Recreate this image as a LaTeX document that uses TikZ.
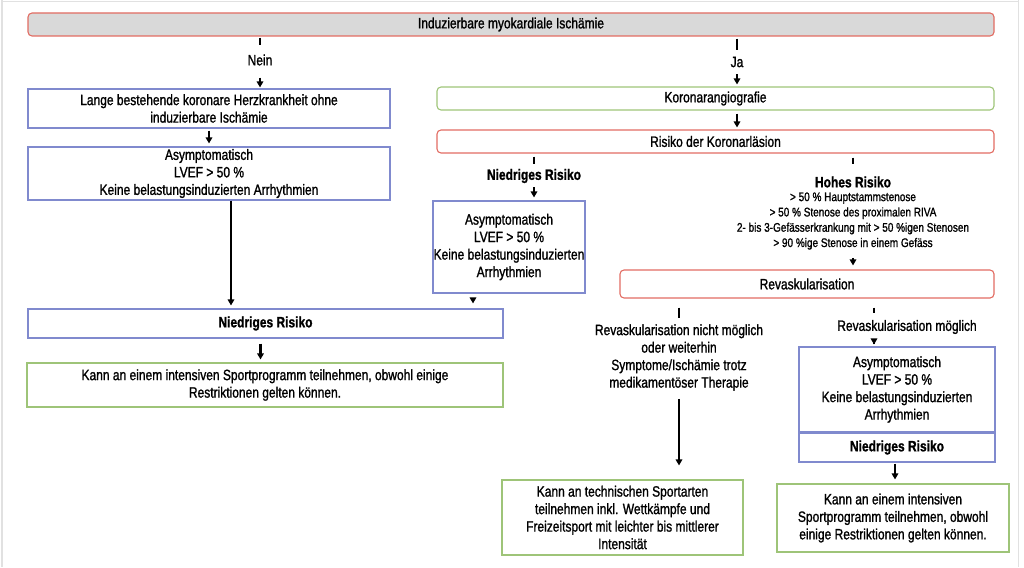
\documentclass[tikz,border=0pt]{standalone}
\usepackage{fontspec}
\setmainfont{Liberation Sans}[FakeStretch=0.8, FakeBold=1.2]
\usetikzlibrary{arrows.meta}
\definecolor{cred}{RGB}{226,108,98}
\definecolor{cblue}{RGB}{128,138,206}
\definecolor{cgreen}{RGB}{158,196,120}
\definecolor{cgray}{RGB}{217,217,217}
\definecolor{cframe}{RGB}{225,225,225}
\begin{document}
\begin{tikzpicture}[x=1pt,y=-1pt,
  txt/.style={font=\fontsize{15}{17.5}\selectfont},
  box/.style={draw, line width=1.1pt, inner sep=0pt, align=center, txt},
  rbox/.style={box, draw=cred, rounded corners=4pt},
  bbox/.style={box, draw=cblue},
  gbox/.style={box, draw=cgreen},
  lab/.style={inner sep=0pt, align=center, txt},
  blab/.style={lab, font=\fontsize{15}{17.5}\selectfont\bfseries},
  slab/.style={inner sep=0pt, align=center, font=\fontsize{12.5}{15.3}\selectfont},
  stub/.style={line width=2.4pt},
  arr/.style={line width=2.2pt, -{Triangle[length=6pt,width=6.5pt]}},
]
\useasboundingbox (0,0) rectangle (1024,567);
\draw[cframe, line width=1.5pt] (2,-2) -- (2,567);
\draw[cframe, line width=1pt] (1018,-2) -- (1018,567);
\draw[cframe, line width=1pt] (2,1.5) -- (1018,1.5);

% boxes
\node[rbox, fill=cgray, minimum width=966pt, minimum height=23pt] (top) at (511,24.5) {Induzierbare myokardiale Ischämie};
\node[bbox, minimum width=362pt, minimum height=39pt] (lange) at (209,108.5) {Lange bestehende koronare Herzkrankheit ohne\\induzierbare Ischämie};
\node[bbox, minimum width=362pt, minimum height=53pt] (asym1) at (209,173.5) {Asymptomatisch\\LVEF > 50 \%\\Keine belastungsinduzierten Arrhythmien};
\node[bbox, minimum width=475pt, minimum height=29pt, font=\fontsize{15}{17.5}\selectfont\bfseries] (nied1) at (265.5,323.5) {Niedriges Risiko};
\node[gbox, minimum width=476pt, minimum height=44pt] (kann1) at (265,385) {Kann an einem intensiven Sportprogramm teilnehmen, obwohl einige\\Restriktionen gelten können.};

\node[rbox, draw=cgreen, minimum width=557pt, minimum height=23pt] (koro) at (715.5,98.5) {Koronarangiografie};
\node[rbox, minimum width=557pt, minimum height=23pt] (risiko) at (715.5,141.5) {Risiko der Koronarläsion};
\node[bbox, minimum width=152pt, minimum height=92pt] (asym2) at (509,247) {Asymptomatisch\\LVEF > 50 \%\\Keine belastungsinduzierten\\Arrhythmien};
\node[rbox, minimum width=374pt, minimum height=28pt] (revask) at (807,284) {Revaskularisation};
\node[bbox, minimum width=196pt, minimum height=85pt] (asym3) at (897,389.5) {Asymptomatisch\\LVEF > 50 \%\\Keine belastungsinduzierten\\Arrhythmien};
\node[bbox, minimum width=196pt, minimum height=29pt, font=\fontsize{15}{17.5}\selectfont\bfseries] (nied3) at (897,447.5) {Niedriges Risiko};
\node[gbox, minimum width=241pt, minimum height=75pt] (kann2) at (622.5,517.5) {Kann an technischen Sportarten\\teilnehmen inkl. Wettkämpfe und\\Freizeitsport mit leichter bis mittlerer\\Intensität};
\node[gbox, minimum width=232pt, minimum height=68pt] (kann3) at (893,518) {Kann an einem intensiven\\Sportprogramm teilnehmen, obwohl\\einige Restriktionen gelten können.};

% labels
\node[lab] (nein) at (260,60) {Nein};
\node[lab] (ja) at (737,62) {Ja};
\node[blab] (niedL) at (534,176) {Niedriges Risiko};
\node[blab] (hohesT) at (853,182) {Hohes Risiko};
\node[slab] (hohesL) at (853,221) {> 50 \% Hauptstammstenose\\> 50 \% Stenose des proximalen RIVA\\2- bis 3-Gefässerkrankung mit > 50 \%igen Stenosen\\> 90 \%ige Stenose in einem Gefäss};
\node[lab] (nichtm) at (679,357.5) {Revaskularisation nicht möglich\\oder weiterhin\\Symptome/Ischämie trotz\\medikamentöser Therapie};
\node[lab] (moegl) at (907,327) {Revaskularisation möglich};

% connectors
\draw[stub, shorten <=1pt, shorten >=9pt] (top.south -| nein) -- (nein.north);
\draw[arr, shorten <=12pt, shorten >=1pt] (nein.south) -- (lange.north -| nein);
\draw[stub, shorten <=2pt, shorten >=7pt] (top.south -| ja) -- (ja.north);
\draw[arr, shorten <=7pt, shorten >=2pt] (ja.south) -- (koro.north -| ja);
\draw[arr, shorten <=2pt, shorten >=3pt] (lange.south) -- (asym1.north);
\draw[arr, shorten >=3pt] ([xshift=22pt]asym1.south) -- ([xshift=22pt]asym1.south |- nied1.north);
\draw[arr, shorten <=5pt, shorten >=3pt] ([xshift=-5pt]nied1.south) -- ([xshift=-5pt]nied1.south |- kann1.north);
\draw[arr, shorten <=3pt, shorten >=2pt] (koro.south -| ja) -- (risiko.north -| ja);
\draw[stub, shorten <=3pt, shorten >=5pt] (risiko.south -| niedL) -- (niedL.north);
\draw[arr, shorten <=4pt, shorten >=3pt] (niedL.south) -- (asym2.north -| niedL);
\draw[arr, shorten <=5pt, shorten >=5pt] ([xshift=-36pt]asym2.south) -- ([xshift=-36pt]asym2.south |- nied1.north);
\draw[stub, shorten <=4pt, shorten >=12pt] (risiko.south -| hohesT) -- (hohesT.north);
\draw[arr, shorten <=8pt, shorten >=4pt] (hohesL.south) -- (revask.north -| hohesL);
\draw[stub, shorten <=9pt, shorten >=6pt] (revask.south -| nichtm) -- (nichtm.north);
\draw[arr, shorten <=8pt, shorten >=14pt] (nichtm.south) -- (kann2.north -| nichtm);
\draw[stub, shorten <=9pt, shorten >=7pt] ([xshift=67pt]revask.south) -- ([xshift=67pt]revask.south |- moegl.north);
\draw[arr, shorten <=10pt, shorten >=2pt] ([xshift=67pt]revask.south |- moegl.south) -- ([xshift=67pt]revask.south |- asym3.north);
\draw[arr, shorten <=1pt, shorten >=4pt] ([xshift=-2pt]nied3.south) -- ([xshift=-2pt]nied3.south |- kann3.north);
\end{tikzpicture}
\end{document}
